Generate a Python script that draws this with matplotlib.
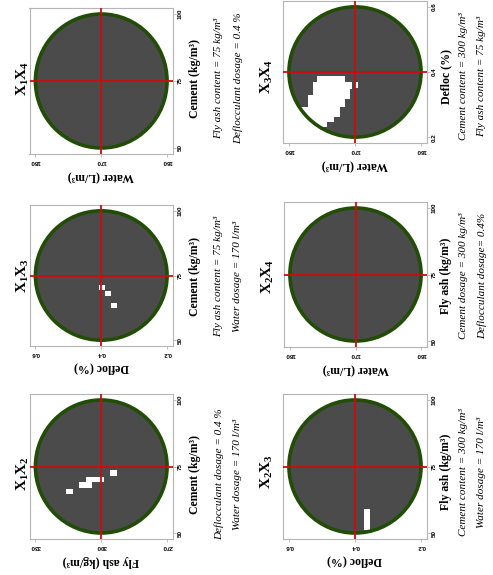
import matplotlib.pyplot as plt
from matplotlib.patches import Ellipse, Rectangle

plt.rcParams['mathtext.fontset'] = 'custom'
plt.rcParams['mathtext.rm'] = 'Liberation Serif'
plt.rcParams['mathtext.bf'] = 'Liberation Serif:bold'

W, H = 493, 575

# panels: left column top->bottom, then right column top->bottom
titles = [r'$\mathbf{X_1X_4}$', r'$\mathbf{X_1X_3}$', r'$\mathbf{X_1X_2}$',
          r'$\mathbf{X_3X_4}$', r'$\mathbf{X_2X_4}$', r'$\mathbf{X_2X_3}$']

h_labels = ['Water (L/m³)', 'Defloc (%)', 'Fly ash (kg/m³)',
            'Water (L/m³)', 'Water (L/m³)', 'Defloc (%)']
h_ticks = [[180, 170, 160], [0.6, 0.4, 0.2], [330, 300, 270],
           [180, 170, 160], [180, 170, 160], [0.6, 0.4, 0.2]]

v_labels = ['Cement (kg/m³)', 'Cement (kg/m³)', 'Cement (kg/m³)',
            'Defloc (%)', 'Fly ash (kg/m³)', 'Fly ash (kg/m³)']
v_ticks = [[50, 75, 100], [50, 75, 100], [50, 75, 100],
           [0.2, 0.4, 0.6], [50, 75, 100], [50, 75, 100]]

notes = [
    ['Fly ash content = 75 kg/m³', 'Deflocculant dosage = 0.4 %'],
    ['Fly ash content = 75 kg/m³', 'Water dosage = 170 l/m³'],
    ['Deflocculant dosage = 0.4 %', 'Water dosage = 170 l/m³'],
    ['Cement content = 300 kg/m³', 'Fly ash content = 75 kg/m³'],
    ['Cement dosage = 300 kg/m³', 'Deflocculant dosage= 0.4%'],
    ['Cement content = 300 kg/m³', 'Water dosage = 170 l/m³'],
]

# feasible (white) cells: (h_lo, h_hi, v_lo, v_hi)
cells_x1x4 = []
cells_x1x3 = [(0.390, 0.407, 69.4, 71.25), (0.370, 0.390, 66.9, 68.9),
              (0.351, 0.369, 62.4, 64.4)]
cells_x1x2 = [(313, 316, 64.6, 66.6), (304.3, 310, 66.8, 69),
              (298.6, 307, 69, 71.2), (293, 296, 71.6, 73.5)]
cells_x3x4 = [(171.45, 175.7, 0.369, 0.389), (170.4, 176.3, 0.349, 0.369),
              (169.5, 170.06, 0.352, 0.369), (170.7, 176.3, 0.328, 0.349),
              (170.7, 177.1, 0.318, 0.328), (171.45, 177.1, 0.292, 0.318),
              (172.2, 180, 0.261, 0.292), (173.2, 180, 0.245, 0.261),
              (174.3, 180, 0.230, 0.245)]
cells_x2x4 = []
cells_x2x3 = [(0.355, 0.372, 51.3, 59.2)]
cells = [cells_x1x4, cells_x1x3, cells_x1x2, cells_x3x4, cells_x2x4, cells_x2x3]

# axes boxes in pixels (left, top, right, bottom)
boxes = [(29.5, 8, 173, 154), (29.5, 205, 173, 346), (29.5, 394, 173, 539),
         (283, 1, 427, 143), (284, 202, 427, 347), (283, 394, 427, 539)]
text_y = [78, 276, 474, 76, 276, 472]
title_gap = [6.5, 6.5, 6.5, 16, 16, 16]
lab_gap = [22, 22, 22, 19, 19, 19]
note_gap = [[46, 65], [46, 65], [46, 65], [36, 55], [36, 55], [36, 55]]

fill = '#4b4b4b'
ring = '#224d06'
red = '#d10a0a'
frame = '#b5b5b5'
serif = 'Liberation Serif'

fig = plt.figure(figsize=(W / 100, H / 100), dpi=100)


def put(px, py, s, **kw):
    fig.text(px / W, 1 - py / H, s, ha='center', va='center', **kw)


for i in range(6):
    x0, y0, x1, y1 = boxes[i]
    ax = fig.add_axes([x0 / W, 1 - y1 / H, (x1 - x0) / W, (y1 - y0) / H])
    hlo, hhi = min(h_ticks[i]), max(h_ticks[i])
    vlo, vhi = min(v_ticks[i]), max(v_ticks[i])
    hm = (hhi - hlo) * 0.045
    vm = (vhi - vlo) * 0.045
    hc = h_ticks[i][1]
    vc = v_ticks[i][1]
    ax.set_xlim(hhi + hm, hlo - hm)
    ax.set_ylim(vlo - vm, vhi + vm)

    disc = Ellipse((hc, vc), hhi - hlo, vhi - vlo, facecolor=fill,
                   edgecolor='none', zorder=1)
    ax.add_patch(disc)
    for a, b, c, d in cells[i]:
        r = Rectangle((a, c), b - a, d - c, facecolor='white',
                      edgecolor='none', zorder=2)
        ax.add_patch(r)
        r.set_clip_path(disc)
    ax.add_patch(Ellipse((hc, vc), hhi - hlo, vhi - vlo, facecolor='none',
                         edgecolor=ring, lw=2.6, zorder=3))
    ax.axvline(hc, color=red, lw=1.3, zorder=4)
    ax.axhline(vc, color=red, lw=1.3, zorder=4)

    ax.set_xticks(h_ticks[i])
    ax.set_xticklabels([str(t) for t in h_ticks[i]], rotation=180,
                       fontsize=4.5, fontweight='bold', family='Liberation Sans')
    ax.yaxis.tick_right()
    ax.set_yticks(v_ticks[i])
    ax.set_yticklabels([str(t) for t in v_ticks[i]], rotation=90, va='center',
                       fontsize=4.5, fontweight='bold', family='Liberation Sans')
    ax.tick_params(length=2, width=0.6, color=frame, pad=1.5)
    for s in ax.spines.values():
        s.set_color(frame)
        s.set_linewidth(0.8)

    cx = (x0 + x1) / 2
    ty = text_y[i]
    put(x0 - title_gap[i], ty, titles[i], rotation=90, fontsize=11)
    put(cx, y1 + 22, h_labels[i], rotation=180, fontsize=8.5,
        fontweight='bold', family=serif)
    put(x1 + lab_gap[i], ty, v_labels[i], rotation=90, fontsize=8.5,
        fontweight='bold', family=serif)
    for k in range(2):
        put(x1 + note_gap[i][k], ty, notes[i][k], rotation=90, fontsize=8,
            style='italic', family=serif)

fig.savefig('out.png', dpi=100)
